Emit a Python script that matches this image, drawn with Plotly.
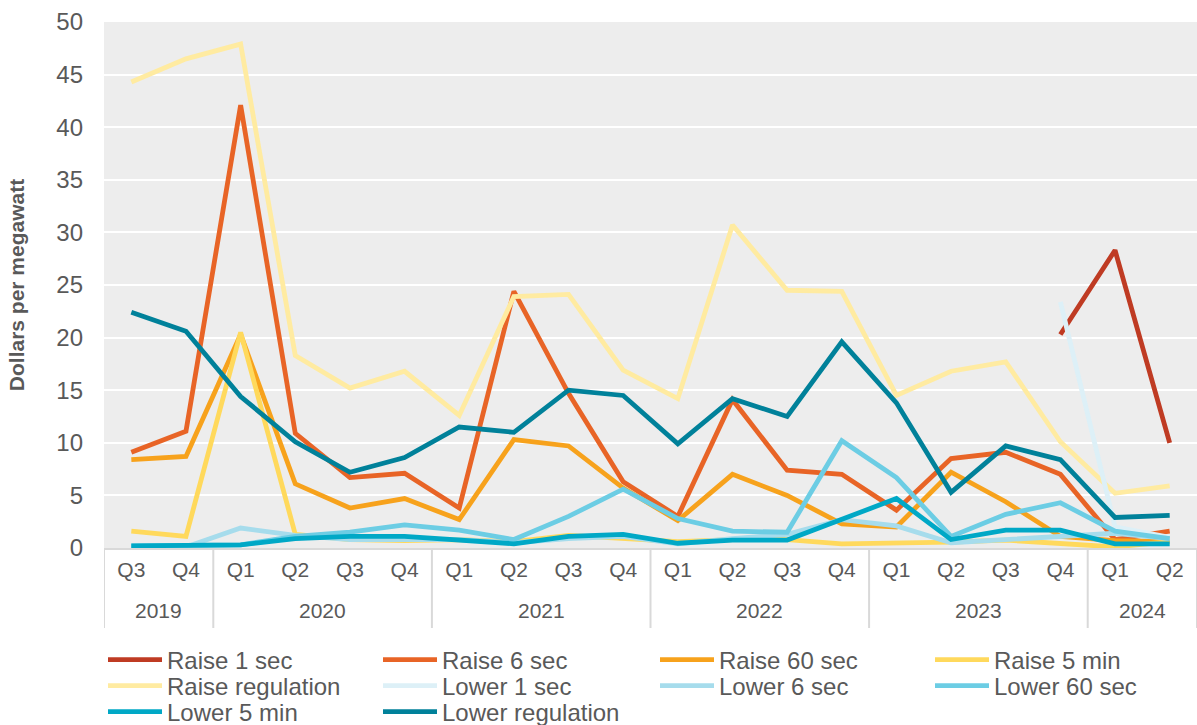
import plotly.graph_objects as go

quarters = ["Q3", "Q4"] + ["Q1", "Q2", "Q3", "Q4"] * 4 + ["Q1", "Q2"]
year_labels = ["2019", "2020", "2021", "2022", "2023", "2024"]
year_spans = [(0, 1), (2, 5), (6, 9), (10, 13), (14, 17), (18, 19)]

raise_1_sec = [None] * 17 + [20.3, 28.3, 10.0]
raise_6_sec = [9.1, 11.1, 42.1, 10.9, 6.7, 7.1, 3.8, 24.4, 14.7, 6.3,
               3.0, 14.1, 7.4, 7.0, 3.6, 8.5, 9.1, 7.0, 0.8, 1.6]
raise_60_sec = [8.4, 8.7, 20.3, 6.1, 3.8, 4.7, 2.7, 10.3, 9.7, 5.7,
                2.6, 7.0, 5.0, 2.3, 2.0, 7.2, 4.4, 1.1, 0.7, 0.6]
raise_5_min = [1.6, 1.1, 20.5, 1.3, 0.8, 0.7, 0.8, 0.6, 1.2, 0.9,
               0.6, 0.8, 0.8, 0.4, 0.45, 0.55, 0.75, 0.45, 0.1, 0.6]
raise_regulation = [44.3, 46.5, 47.9, 18.3, 15.2, 16.8, 12.6, 23.9, 24.1, 16.9,
                    14.2, 30.7, 24.5, 24.4, 14.5, 16.8, 17.7, 10.1, 5.2, 5.9]
lower_1_sec = [None] * 17 + [23.4, 2.0, 1.0]
lower_6_sec = [0.1, 0.1, 1.9, 1.2, 0.8, 0.8, 0.8, 0.5, 0.9, 1.1,
               0.4, 0.9, 1.3, 2.7, 2.1, 0.5, 0.8, 1.2, 1.4, 0.9]
lower_60_sec = [0.2, 0.2, 0.3, 1.1, 1.5, 2.2, 1.7, 0.8, 3.0, 5.6,
                2.8, 1.6, 1.5, 10.2, 6.7, 1.1, 3.2, 4.3, 1.6, 0.9]
lower_5_min = [0.2, 0.2, 0.3, 0.9, 1.1, 1.1, 0.7, 0.4, 1.1, 1.3,
               0.45, 0.75, 0.75, 2.7, 4.7, 0.8, 1.7, 1.7, 0.4, 0.4]
lower_regulation = [22.4, 20.6, 14.4, 10.1, 7.2, 8.6, 11.5, 11.0, 15.0, 14.5,
                    9.9, 14.2, 12.5, 19.6, 13.8, 5.3, 9.7, 8.4, 2.9, 3.1]

# name, values, colour, legend row/half it sits in
series = [
    ("Raise 1 sec", raise_1_sec, "#BF3B23", "legend"),
    ("Raise 6 sec", raise_6_sec, "#E86426", "legend"),
    ("Raise 60 sec", raise_60_sec, "#F7A21C", "legend2"),
    ("Raise 5 min", raise_5_min, "#FFD95C", "legend2"),
    ("Raise regulation", raise_regulation, "#FFEBA1", "legend3"),
    ("Lower 1 sec", lower_1_sec, "#DDF0F7", "legend3"),
    ("Lower 6 sec", lower_6_sec, "#A6DCEC", "legend4"),
    ("Lower 60 sec", lower_60_sec, "#6CCDE4", "legend4"),
    ("Lower 5 min", lower_5_min, "#00A8C6", "legend5"),
    ("Lower regulation", lower_regulation, "#00819A", "legend5"),
]

FONT = "Liberation Sans, Arial, sans-serif"
GREY = "#595959"
DIVIDER = "#D9D9D9"
W, H = 1197, 725
PLOT_TOP, PLOT_BOTTOM = 22, 548

x_idx = list(range(len(quarters)))

fig = go.Figure()
for name, vals, color, leg in series:
    fig.add_trace(go.Scatter(
        x=x_idx, y=vals, name=name, mode="lines",
        line=dict(color=color, width=4.8), connectgaps=False, legend=leg,
    ))

legend_common = dict(
    orientation="h", xref="container", yref="container",
    xanchor="left", yanchor="middle",
    entrywidth=206, entrywidthmode="pixels", itemwidth=54,
    font=dict(family=FONT, size=24, color=GREY),
    bgcolor="rgba(0,0,0,0)", traceorder="normal",
)
col_left = [103, 655]
row_y = [660, 686, 712]


def legend_pos(col, row):
    return dict(legend_common, x=col_left[col] / W, y=1 - row_y[row] / H)


def paper_y(pix):
    return (PLOT_BOTTOM - pix) / (PLOT_BOTTOM - PLOT_TOP)


shapes = []
bounds = [-0.5] + [b + 0.5 for _, b in year_spans]
for xb in bounds:
    shapes.append(dict(
        type="line", xref="x", yref="paper", x0=xb, x1=xb,
        y0=0, y1=paper_y(628), line=dict(color=DIVIDER, width=2),
    ))

annotations = []
for label, (a, b) in zip(year_labels, year_spans):
    annotations.append(dict(
        text=label, xref="x", yref="paper", x=(a + b) / 2, y=paper_y(610),
        showarrow=False, xanchor="center", yanchor="middle",
        font=dict(family=FONT, size=21, color=GREY),
    ))

fig.update_layout(
    width=W, height=H,
    margin=dict(l=104, r=0, t=PLOT_TOP, b=H - PLOT_BOTTOM),
    paper_bgcolor="white", plot_bgcolor="#EDEDED",
    font=dict(family=FONT, color=GREY),
    legend=legend_pos(0, 0),
    legend2=legend_pos(1, 0),
    legend3=legend_pos(0, 1),
    legend4=legend_pos(1, 1),
    legend5=legend_pos(0, 2),
    showlegend=True,
    shapes=shapes,
    annotations=annotations,
)

fig.update_yaxes(
    range=[0, 50], dtick=5, tick0=0,
    showgrid=True, gridcolor="white", gridwidth=2,
    zeroline=False, showline=False,
    tickfont=dict(family=FONT, size=24, color=GREY),
    ticks="", ticklabelstandoff=20,
    title=dict(text="<b>Dollars per megawatt</b>", standoff=25,
               font=dict(family=FONT, size=21, color=GREY)),
)
fig.update_xaxes(
    range=[-0.5, len(quarters) - 0.5],
    tickmode="array", tickvals=x_idx, ticktext=quarters,
    showgrid=False, zeroline=False,
    showline=True, linecolor=DIVIDER, linewidth=2,
    tickfont=dict(family=FONT, size=21, color=GREY),
    ticks="", ticklabelstandoff=2,
)

fig.write_html("out.html")
